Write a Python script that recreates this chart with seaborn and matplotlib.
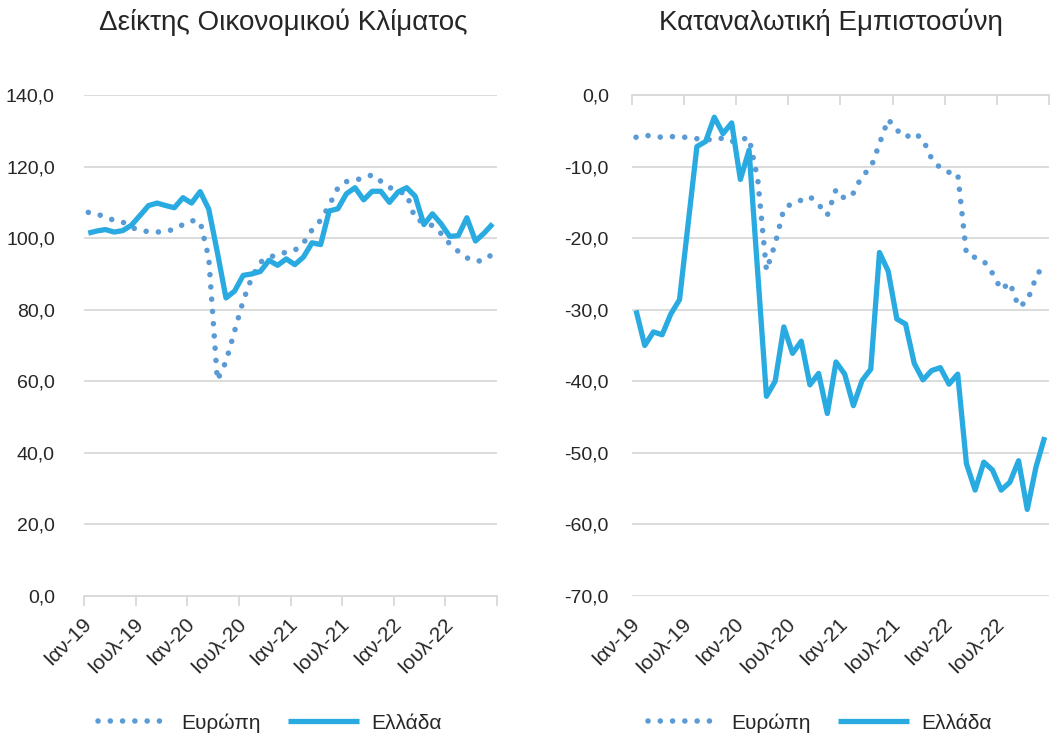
#!/usr/bin/env python3
import numpy as np
import pandas as pd
import seaborn as sns
import matplotlib.pyplot as plt
from matplotlib.ticker import FixedLocator, FuncFormatter

sns.set_theme(style="white")
plt.rcParams["font.family"] = ["Liberation Sans", "DejaVu Sans"]

# monthly data, Jan-2019 .. Dec-2022
tick_labels = ["Ιαν-19", "Ιουλ-19", "Ιαν-20", "Ιουλ-20",
               "Ιαν-21", "Ιουλ-21", "Ιαν-22", "Ιουλ-22"]

esi_europe = [107.2, 106.8, 105.8, 105.0, 104.5, 103.0, 102.2, 101.8, 101.7, 101.9, 102.5, 103.8,
              104.9, 104.6, 94.5, 60.3, 65.5, 74.0, 82.5, 89.0, 93.3, 94.7, 95.3, 96.1,
              96.6, 98.6, 102.3, 105.0, 109.2, 114.0, 115.8, 116.2, 116.8, 117.7, 115.9, 114.2,
              113.0, 112.4, 105.3, 104.5, 103.5, 101.3, 98.4, 96.3, 94.5, 93.5, 93.8, 95.6]
esi_greece = [101.4, 102.0, 102.4, 101.7, 102.1, 103.6, 106.3, 109.1, 109.8, 109.1, 108.5, 111.3,
              109.8, 113.0, 108.1, 96.0, 83.3, 85.2, 89.6, 90.0, 90.7, 93.8, 92.4, 94.2,
              92.6, 94.7, 98.7, 98.2, 107.6, 108.2, 112.4, 114.1, 110.7, 113.1, 113.1, 110.0,
              112.9, 114.1, 111.7, 103.8, 106.8, 104.0, 100.5, 100.7, 105.7, 99.2, 101.4, 104.0]

cci_europe = [-5.9, -5.6, -5.8, -5.9, -5.8, -5.9, -5.9, -6.1, -6.2, -6.3, -6.0, -6.5,
              -6.2, -6.0, -11.8, -24.5, -20.8, -15.9, -15.1, -14.7, -14.2, -15.3, -16.8, -13.2,
              -14.5, -13.7, -11.3, -10.2, -6.8, -3.4, -4.9, -5.9, -5.3, -6.2, -8.9, -10.2,
              -10.8, -11.0, -22.2, -22.7, -23.2, -24.9, -27.2, -26.2, -29.6, -28.8, -25.5, -23.3]
cci_greece = [-30.1, -35.0, -33.1, -33.5, -30.6, -28.6, -17.9, -7.2, -6.5, -3.1, -5.4, -3.9,
              -11.8, -7.7, -24.9, -42.1, -40.0, -32.4, -36.1, -34.4, -40.5, -38.9, -44.5, -37.3,
              -39.0, -43.4, -39.9, -38.3, -22.0, -24.6, -31.3, -32.0, -37.5, -39.8, -38.5, -38.1,
              -40.4, -39.0, -51.5, -55.2, -51.3, -52.4, -55.2, -54.1, -51.1, -57.9, -52.0, -47.8]

C_EU = "#5B9BD5"
C_GR = "#29ABE2"
GRID = "#D9D9D9"
DOT = (0, (0.01, 2.2))

fig = plt.figure(figsize=(10.52, 7.35), dpi=100)
ax1 = fig.add_axes([84/1052, 1-596/735, 413/1052, 501/735])
ax2 = fig.add_axes([631.7/1052, 1-596/735, 417.3/1052, 501/735])

def comma(v, pos):
    return f"{v:.1f}".replace(".", ",")

def draw(ax, eu, gr, ylim, step, top_axis, ypad):
    df = pd.DataFrame({"m": np.arange(len(eu)), "Ευρώπη": eu, "Ελλάδα": gr})
    sns.lineplot(data=df, x="m", y="Ευρώπη", ax=ax, color=C_EU, lw=4.0,
                 linestyle=DOT, dash_capstyle="round", label="Ευρώπη", legend=False)
    sns.lineplot(data=df, x="m", y="Ελλάδα", ax=ax, color=C_GR, lw=3.8,
                 solid_capstyle="butt", label="Ελλάδα", legend=False)
    ax.set_xlim(-0.5, len(eu) - 0.5)
    ax.set_ylim(*ylim)
    ax.set_yticks(np.arange(ylim[0], ylim[1] + 0.1, step))
    ax.yaxis.set_major_formatter(FuncFormatter(comma))
    ax.grid(axis="y", color=GRID, lw=1.3)
    ax.set_axisbelow(True)
    ax.set_xlabel(""); ax.set_ylabel("")
    ax.xaxis.set_major_locator(FixedLocator(np.arange(0, 48, 6)))
    ax.xaxis.set_minor_locator(FixedLocator(np.arange(-0.5, 48, 6)))
    ax.set_xticklabels(tick_labels, rotation=45, ha="right", va="center",
                       rotation_mode="anchor", fontsize=15)
    ax.tick_params(axis="x", which="major", length=0, pad=18)
    ax.tick_params(axis="y", length=0, pad=ypad, labelsize=14)
    for s in ax.spines.values():
        s.set_visible(False)
    if top_axis:
        ax.spines["top"].set_visible(True)
        ax.spines["top"].set_color(GRID); ax.spines["top"].set_linewidth(1.3)
        ax.tick_params(axis="x", which="minor", bottom=False, top=True,
                       direction="in", length=7, width=1.3, color=GRID)
    else:
        ax.spines["bottom"].set_visible(True)
        ax.spines["bottom"].set_color(GRID); ax.spines["bottom"].set_linewidth(1.3)
        ax.tick_params(axis="x", which="minor", bottom=True, direction="out",
                       length=7, width=1.3, color=GRID)

draw(ax1, esi_europe, esi_greece, (0, 140), 20, False, 21)
draw(ax2, cci_europe, cci_greece, (-70, 0), 10, True, 16.5)

fig.text(283/1052, 1-22/735, "Δείκτης Οικονομικού Κλίματος", ha="center", va="center", fontsize=20)
fig.text(831/1052, 1-22/735, "Καταναλωτική Εμπιστοσύνη", ha="center", va="center", fontsize=20)

for ax, cx in [(ax1, 270), (ax2, 820)]:
    h = ax.get_lines()[:2]
    fig.legend(h, ["Ευρώπη", "Ελλάδα"], loc="center", bbox_to_anchor=(cx/1052, 1-723/735),
               ncol=2, frameon=False, fontsize=15, handlelength=3.4,
               columnspacing=1.3, handletextpad=0.6)

fig.savefig("out.png", dpi=100)
